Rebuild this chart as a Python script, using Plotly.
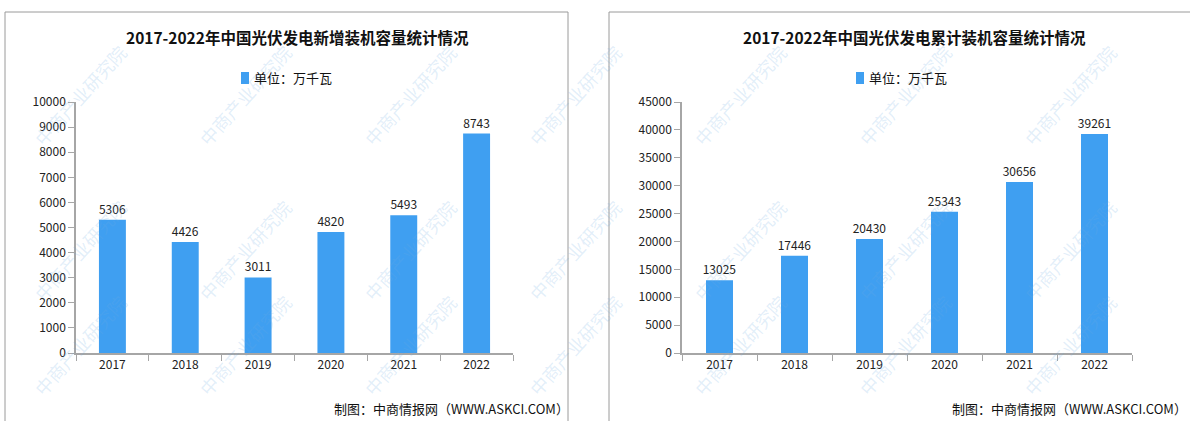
import plotly.graph_objects as go

years = ["2017", "2018", "2019", "2020", "2021", "2022"]
new_capacity = [5306, 4426, 3011, 4820, 5493, 8743]
cum_capacity = [13025, 17446, 20430, 25343, 30656, 39261]
title_left = "2017-2022年中国光伏发电新增装机容量统计情况"
title_right = "2017-2022年中国光伏发电累计装机容量统计情况"
legend_text = "单位：万千瓦"
source_text = "制图：中商情报网（WWW.ASKCI.COM）"

W, H = 1190, 421
BAR = "#3F9FF1"
AX = "#A6A6A6"
FONT = "Noto Sans CJK SC"

def px(x):
    return x / W

def py(y):
    return 1 - y / H

fig = go.Figure()
fig.add_trace(go.Bar(x=years, y=new_capacity, xaxis="x", yaxis="y",
                     marker=dict(color=BAR, line=dict(width=0)), width=0.37,
                     text=[str(v) for v in new_capacity], textposition="outside",
                     constraintext="none",
                     textfont=dict(size=12, color="#222", family=FONT),
                     cliponaxis=False, showlegend=False))
fig.add_trace(go.Bar(x=years, y=cum_capacity, xaxis="x2", yaxis="y2",
                     marker=dict(color=BAR, line=dict(width=0)), width=0.36,
                     text=[str(v) for v in cum_capacity], textposition="outside",
                     constraintext="none",
                     textfont=dict(size=12, color="#222", family=FONT),
                     cliponaxis=False, showlegend=False))

xcommon = dict(type="category", range=[-0.5, 5.5], tickson="boundaries",
               ticks="outside", ticklen=6, tickcolor=AX, showline=True,
               linecolor=AX, linewidth=1.5, showgrid=False, automargin=False,
               tickfont=dict(size=12, color="#222", family=FONT))
ycommon = dict(ticks="outside", ticklen=6, tickcolor=AX, showline=True,
               linecolor=AX, linewidth=1.5, showgrid=False, zeroline=False,
               tickformat="d", automargin=False,
               tickfont=dict(size=12, color="#222", family=FONT))

fig.update_layout(
    width=W, height=H, margin=dict(l=0, r=0, t=0, b=0, autoexpand=False),
    paper_bgcolor="white", plot_bgcolor="rgba(0,0,0,0)",
    xaxis=dict(domain=[px(76), px(513)], anchor="y", **xcommon),
    yaxis=dict(domain=[py(353), py(102)], anchor="x", range=[0, 10000], dtick=1000, **ycommon),
    xaxis2=dict(domain=[px(682), px(1132)], anchor="y2", **xcommon),
    yaxis2=dict(domain=[py(353), py(102)], anchor="x2", range=[0, 45000], dtick=5000, **ycommon),
)

shapes = []
annotations = []

def ann(x, y, text, size, color="#111", xanchor="center", angle=0):
    annotations.append(dict(x=px(x), y=py(y), xref="paper", yref="paper", text=text,
                            xanchor=xanchor, yanchor="middle", showarrow=False,
                            textangle=angle, font=dict(size=size, color=color, family=FONT)))

# watermarks (kept inside the canvas)
wm_x = [80, 245, 410, 575, 740, 905, 1070]
wm_y = [95, 250, 345]
for yy in wm_y:
    for xx in wm_x:
        ann(xx, yy, "中商产业研究院", 18, "rgba(110,170,225,0.20)", angle=-48)

# panel borders
shapes.append(dict(type="rect", xref="paper", yref="paper", x0=px(5), x1=px(568), y0=py(440), y1=py(12),
                   line=dict(color="#9A9A9A", width=1), layer="below"))
shapes.append(dict(type="rect", xref="paper", yref="paper", x0=px(609), x1=px(1200), y0=py(440), y1=py(12),
                   line=dict(color="#9A9A9A", width=1), layer="below"))

for cx, title, lx in [(297, title_left, 241), (914, title_right, 856)]:
    ann(cx, 37, "<b>" + title + "</b>", 15.5)
    shapes.append(dict(type="rect", xref="paper", yref="paper", x0=px(lx), x1=px(lx + 8),
                       y0=py(84), y1=py(72), fillcolor=BAR, line=dict(width=0)))
    ann(lx + 11, 78, legend_text, 13, xanchor="left")

for rx in [571, 1189]:
    ann(rx, 408, source_text, 13, xanchor="right")

fig.update_layout(shapes=shapes, annotations=annotations)
fig.write_html("out.html", config={"displayModeBar": False},
               post_script="document.body.style.margin='0';document.body.style.overflow='hidden';")
